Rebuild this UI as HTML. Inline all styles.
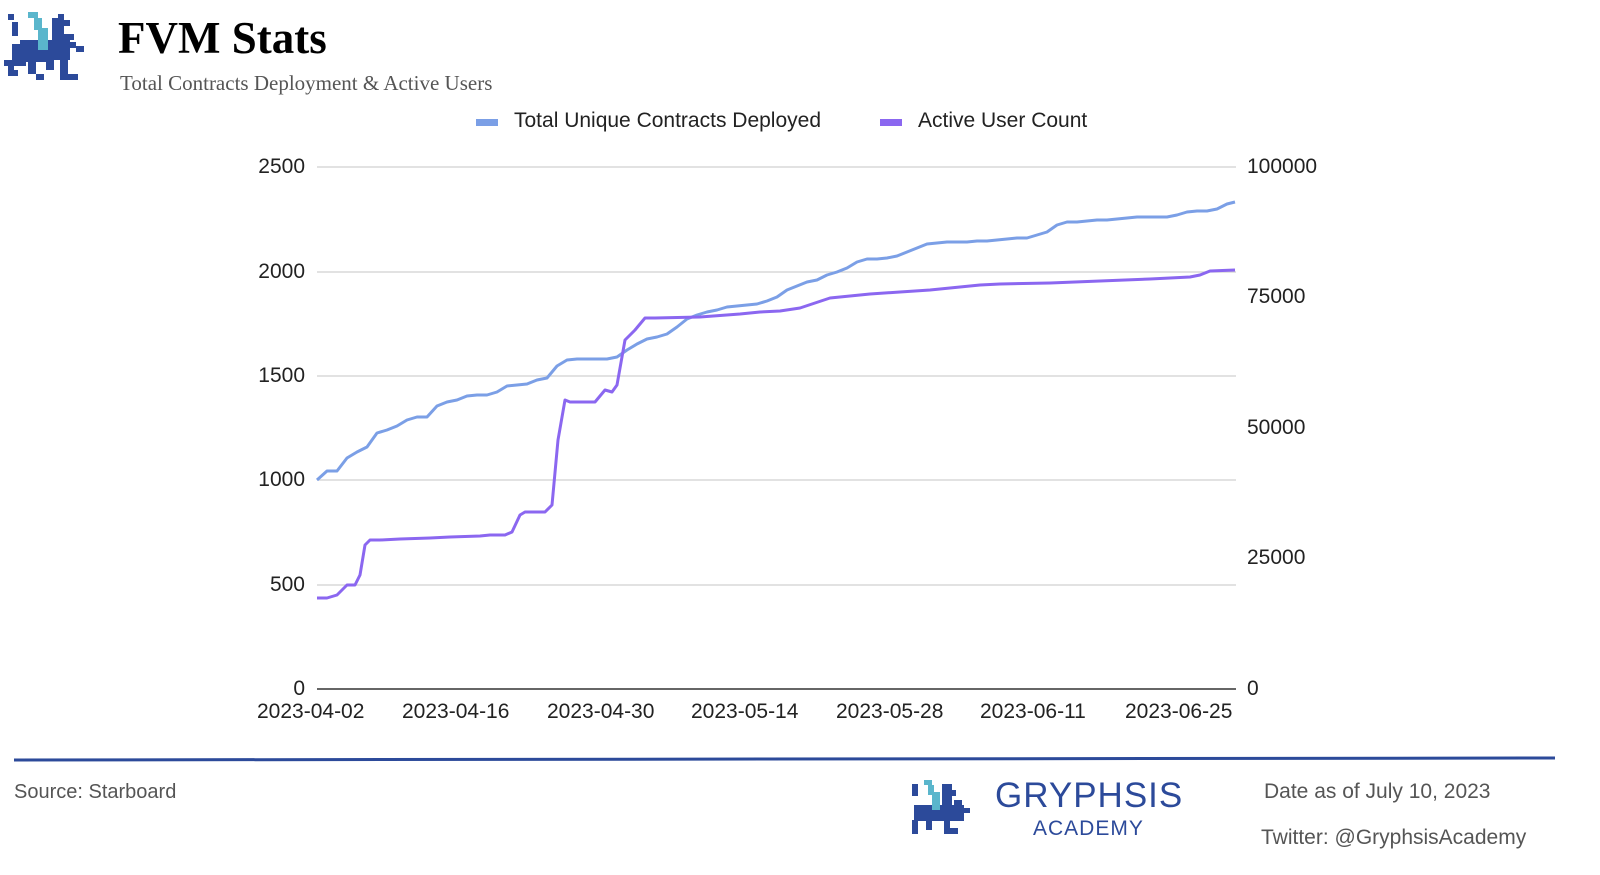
<!DOCTYPE html>
<html><head><meta charset="utf-8"><style>
body{margin:0;width:1600px;height:875px;background:#fff;overflow:hidden;position:relative;font-family:"Liberation Sans",sans-serif}
.a{position:absolute;white-space:nowrap}
</style></head><body>
<svg class="a" style="left:0;top:0" width="1600" height="875">
<!-- top logo -->
<g fill="#2c4a9a">
<rect x="8" y="14" width="6" height="6"/><rect x="12" y="22" width="6" height="14"/><rect x="12" y="44" width="40" height="18"/><rect x="20" y="40" width="50" height="20"/><rect x="52" y="18" width="12" height="40"/><rect x="58" y="14" width="6" height="6"/><rect x="64" y="20" width="6" height="6"/><rect x="60" y="34" width="14" height="6"/><rect x="68" y="42" width="8" height="6"/><rect x="76" y="46" width="8" height="6"/><rect x="8" y="60" width="6" height="16"/><rect x="8" y="70" width="10" height="6"/><rect x="28" y="60" width="8" height="14"/><rect x="36" y="74" width="8" height="6"/><rect x="46" y="60" width="8" height="10"/><rect x="60" y="60" width="8" height="20"/><rect x="68" y="74" width="10" height="6"/><rect x="4" y="60" width="22" height="6"/>
</g>
<g fill="#5ab6cc"><rect x="28" y="12" width="10" height="6"/><rect x="34" y="18" width="8" height="12"/><rect x="38" y="28" width="10" height="22"/></g>
<!-- gridlines -->
<g stroke="#d0d0d0" stroke-width="1.3">
<line x1="317" y1="167" x2="1236" y2="167"/><line x1="317" y1="272" x2="1236" y2="272"/><line x1="317" y1="376" x2="1236" y2="376"/><line x1="317" y1="480" x2="1236" y2="480"/><line x1="317" y1="585" x2="1236" y2="585"/>
</g>
<line x1="317" y1="689" x2="1236" y2="689" stroke="#333" stroke-width="1.5"/>
<polyline fill="none" stroke="#7b9fe6" stroke-width="3" stroke-linejoin="round" points="317,480 327,471 337,471 347,458 357,452 367,447 377,433 387,430 397,426 407,420 417,417 427,417 437,406 447,402 457,400 467,396 477,395 487,395 497,392 507,386 517,385 527,384 537,380 547,378 557,366 567,360 577,359 587,359 597,359 607,359 617,357 627,350 637,344 647,339 657,337 667,334 677,327 687,319 697,315 707,312 717,310 727,307 737,306 747,305 757,304 767,301 777,297 787,290 797,286 807,282 817,280 827,275 837,272 847,268 857,262 867,259 877,259 887,258 897,256 907,252 917,248 927,244 937,243 947,242 957,242 967,242 977,241 987,241 997,240 1007,239 1017,238 1027,238 1037,235 1047,232 1057,225 1067,222 1077,222 1087,221 1097,220 1107,220 1117,219 1127,218 1137,217 1147,217 1157,217 1167,217 1177,215 1187,212 1197,211 1207,211 1217,209 1227,204 1235,202"/>
<polyline fill="none" stroke="#8b67f0" stroke-width="3" stroke-linejoin="round" points="317,598 327,598 337,595 347,585 355,585 360,575 365,545 370,540 380,540 400,539 430,538 450,537 480,536 490,535 505,535 512,532 520,515 525,512 545,512 552,505 558,440 565,400 570,402 595,402 605,390 612,392 617,385 625,340 635,330 645,318 655,318 700,317 740,314 760,312 780,311 800,308 815,303 830,298 850,296 870,294 900,292 930,290 960,287 980,285 1000,284 1050,283 1100,281 1150,279 1190,277 1200,275 1210,271 1235,270"/>
<rect x="476" y="119" width="22" height="7" fill="#7b9fe6"/>
<rect x="880" y="119" width="22" height="7" fill="#8b67f0"/>
<line x1="14" y1="760" x2="1555" y2="758" stroke="#2c4a9a" stroke-width="3"/>
<!-- bottom logo -->
<g fill="#2c4a9a"><rect x="912" y="784" width="6" height="12"/><rect x="914" y="805" width="50" height="16"/><rect x="942" y="784" width="10" height="25"/><rect x="950" y="790" width="6" height="6"/><rect x="954" y="800" width="8" height="5"/><rect x="962" y="808" width="8" height="5"/><rect x="912" y="820" width="6" height="14"/><rect x="926" y="818" width="6" height="12"/><rect x="944" y="818" width="6" height="16"/><rect x="950" y="828" width="8" height="6"/></g>
<g fill="#5ab6cc"><rect x="924" y="780" width="8" height="5"/><rect x="928" y="785" width="6" height="10"/><rect x="932" y="792" width="8" height="18"/></g>
</svg>
<div class="a" style="left:118px;top:12px;font:bold 45px 'Liberation Serif',serif;color:#000">FVM Stats</div>
<div class="a" style="left:120px;top:71px;font:21px 'Liberation Serif',serif;color:#555">Total Contracts Deployment &amp; Active Users</div>
<div class="a" style="left:514px;top:109px;font:21px 'Liberation Sans',sans-serif;color:#222">Total Unique Contracts Deployed</div>
<div class="a" style="left:918px;top:109px;font:21px 'Liberation Sans',sans-serif;color:#222">Active User Count</div>
<div class="a" style="left:200px;width:105px;text-align:right;top:155px;font:21px 'Liberation Sans';color:#222;line-height:24px">2500</div>
<div class="a" style="left:200px;width:105px;text-align:right;top:260px;font:21px 'Liberation Sans';color:#222;line-height:24px">2000</div>
<div class="a" style="left:200px;width:105px;text-align:right;top:364px;font:21px 'Liberation Sans';color:#222;line-height:24px">1500</div>
<div class="a" style="left:200px;width:105px;text-align:right;top:468px;font:21px 'Liberation Sans';color:#222;line-height:24px">1000</div>
<div class="a" style="left:200px;width:105px;text-align:right;top:573px;font:21px 'Liberation Sans';color:#222;line-height:24px">500</div>
<div class="a" style="left:200px;width:105px;text-align:right;top:677px;font:21px 'Liberation Sans';color:#222;line-height:24px">0</div>
<div class="a" style="left:1247px;top:155px;font:21px 'Liberation Sans';color:#222;line-height:24px">100000</div>
<div class="a" style="left:1247px;top:285px;font:21px 'Liberation Sans';color:#222;line-height:24px">75000</div>
<div class="a" style="left:1247px;top:416px;font:21px 'Liberation Sans';color:#222;line-height:24px">50000</div>
<div class="a" style="left:1247px;top:546px;font:21px 'Liberation Sans';color:#222;line-height:24px">25000</div>
<div class="a" style="left:1247px;top:677px;font:21px 'Liberation Sans';color:#222;line-height:24px">0</div>
<div class="a" style="left:257px;top:700px;font:21px 'Liberation Sans';color:#222;line-height:24px">2023-04-02</div>
<div class="a" style="left:402px;top:700px;font:21px 'Liberation Sans';color:#222;line-height:24px">2023-04-16</div>
<div class="a" style="left:547px;top:700px;font:21px 'Liberation Sans';color:#222;line-height:24px">2023-04-30</div>
<div class="a" style="left:691px;top:700px;font:21px 'Liberation Sans';color:#222;line-height:24px">2023-05-14</div>
<div class="a" style="left:836px;top:700px;font:21px 'Liberation Sans';color:#222;line-height:24px">2023-05-28</div>
<div class="a" style="left:980px;top:700px;font:21px 'Liberation Sans';color:#222;line-height:24px">2023-06-11</div>
<div class="a" style="left:1125px;top:700px;font:21px 'Liberation Sans';color:#222;line-height:24px">2023-06-25</div>
<div class="a" style="left:14px;top:780px;font:20px 'Liberation Sans';color:#555;line-height:24px">Source: Starboard</div>
<div class="a" style="left:995px;top:776px;font:35px 'Liberation Sans';color:#2c4a9a;letter-spacing:1px;line-height:40px">GRYPHSIS</div>
<div class="a" style="left:1033px;top:817px;font:21px 'Liberation Sans';color:#2c4a9a;letter-spacing:1px;line-height:24px">ACADEMY</div>
<div class="a" style="left:1264px;top:780px;font:21px 'Liberation Sans';color:#555;line-height:24px">Date as of July 10, 2023</div>
<div class="a" style="left:1261px;top:826px;font:21px 'Liberation Sans';color:#555;line-height:24px">Twitter: @GryphsisAcademy</div>
</body></html>
